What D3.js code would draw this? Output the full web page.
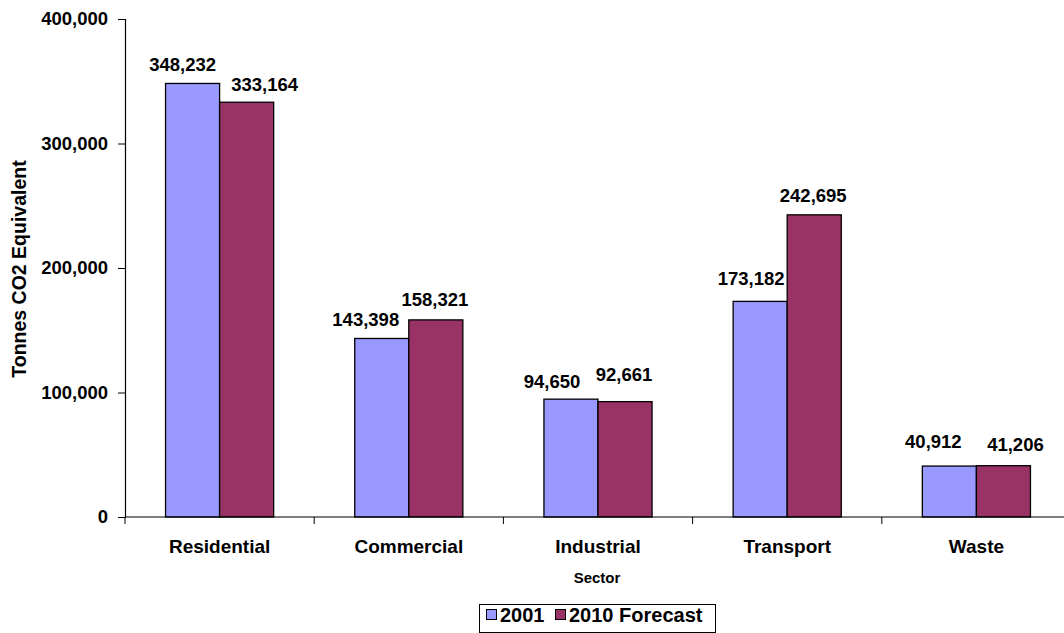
<!DOCTYPE html>
<html>
<head>
<meta charset="utf-8">
<script src="https://cdn.jsdelivr.net/npm/d3@7"></script>
<style>
  html, body { margin: 0; padding: 0; background: #fff; }
  svg { display: block; font-family: "Liberation Sans", Arial, sans-serif; font-weight: bold; }
</style>
</head>
<body>
<svg id="chart" width="1064" height="633"></svg>
<script>
// Emissions by sector, tonnes CO2 equivalent
const sectors = ["Residential", "Commercial", "Industrial", "Transport", "Waste"];
const seriesNames = ["2001", "2010 Forecast"];
const values2001 = [348232, 143398, 94650, 173182, 40912];
const values2010 = [333164, 158321, 92661, 242695, 41206];
const yTicks = [0, 100000, 200000, 300000, 400000];

// Per-label nudges (dx, dy) so neighbouring value labels do not collide
const labelNudge2001 = [[-10, 0], [-16, 0], [-19, 1], [-9, -4], [-16, -6]];
const labelNudge2010 = [[18, 1], [-1, -2], [-1, -9], [-1, -1], [12, -3]];

const colors = ["#9999FF", "#993366"];

const svg = d3.select("#chart");
const margin = { left: 125, top: 19, bottom: 517 };
const step = 189.2;

const x = d3.scaleBand()
  .domain(sectors)
  .range([margin.left, margin.left + step * sectors.length])
  .paddingInner(0).paddingOuter(0);

const y = d3.scaleLinear().domain([0, 400000]).range([margin.bottom, margin.top]);

// bar width: two bars plus a 150% gap fill one category slot
const barW = step / 3.5;

const series = [values2001, values2010];
const nudges = [labelNudge2001, labelNudge2010];
const fmt = d3.format(",");

// Bars
series.forEach((vals, si) => {
  svg.append("g").selectAll("rect")
    .data(vals)
    .join("rect")
    .attr("x", (d, i) => x(sectors[i]) + x.bandwidth() / 2 - barW + si * barW)
    .attr("y", d => y(d))
    .attr("width", barW)
    .attr("height", d => y(0) - y(d))
    .attr("fill", colors[si])
    .attr("stroke", "#000")
    .attr("stroke-width", 1.3);
});

// Axes
const yAxis = d3.axisLeft(y).tickValues(yTicks).tickFormat(fmt).tickSize(7).tickPadding(10);
const gy = svg.append("g").attr("transform", `translate(${margin.left},0)`).call(yAxis);
gy.select(".domain").attr("stroke", "#000").attr("stroke-width", 1.2);
gy.selectAll(".tick line").attr("stroke", "#000");
gy.selectAll(".tick text")
  .attr("fill", "#000")
  .style("font-size", "18.5px")
  .style("font-family", "'Liberation Sans', Arial, sans-serif")
  .style("font-weight", "bold");

const gx = svg.append("g").attr("transform", `translate(0,${margin.bottom})`);
gx.append("line")
  .attr("x1", margin.left).attr("x2", 1064)
  .attr("y1", 0).attr("y2", 0)
  .attr("stroke", "#000").attr("stroke-width", 1.2);
// ticks sit on the category boundaries
const boundaries = sectors.map(s => x(s));
gx.selectAll("line.tk")
  .data(boundaries)
  .join("line")
  .attr("class", "tk")
  .attr("x1", d => d).attr("x2", d => d)
  .attr("y1", 0).attr("y2", 7)
  .attr("stroke", "#000");
gx.selectAll("text.cat")
  .data(sectors)
  .join("text")
  .attr("class", "cat")
  .attr("x", d => x(d) + x.bandwidth() / 2)
  .attr("y", 36)
  .attr("text-anchor", "middle")
  .style("font-size", "19px")
  .text(d => d);

// Value labels
series.forEach((vals, si) => {
  svg.append("g").selectAll("text")
    .data(vals)
    .join("text")
    .attr("x", (d, i) => x(sectors[i]) + x.bandwidth() / 2 - barW / 2 + si * barW + nudges[si][i][0])
    .attr("y", (d, i) => y(d) - 12 + nudges[si][i][1])
    .attr("text-anchor", "middle")
    .style("font-size", "18.5px")
    .text(d => fmt(d));
});

// Axis titles
svg.append("text")
  .attr("x", 597).attr("y", 583)
  .attr("text-anchor", "middle")
  .style("font-size", "15px")
  .text("Sector");

svg.append("text")
  .attr("transform", "translate(26,269) rotate(-90)")
  .attr("text-anchor", "middle")
  .style("font-size", "19.5px")
  .text("Tonnes CO2 Equivalent");

// Legend
const lg = svg.append("g");
lg.append("rect")
  .attr("x", 479.5).attr("y", 604.5).attr("width", 236).attr("height", 28)
  .attr("fill", "#fff").attr("stroke", "#000").attr("stroke-width", 1);
const legendX = [486, 555];
seriesNames.forEach((name, i) => {
  lg.append("rect")
    .attr("x", legendX[i] + 0.5).attr("y", 609.5).attr("width", 10).attr("height", 10)
    .attr("fill", colors[i]).attr("stroke", "#000").attr("stroke-width", 1);
  lg.append("text")
    .attr("x", legendX[i] + 14).attr("y", 621.5)
    .style("font-size", "20px")
    .text(name);
});
</script>
</body>
</html>
